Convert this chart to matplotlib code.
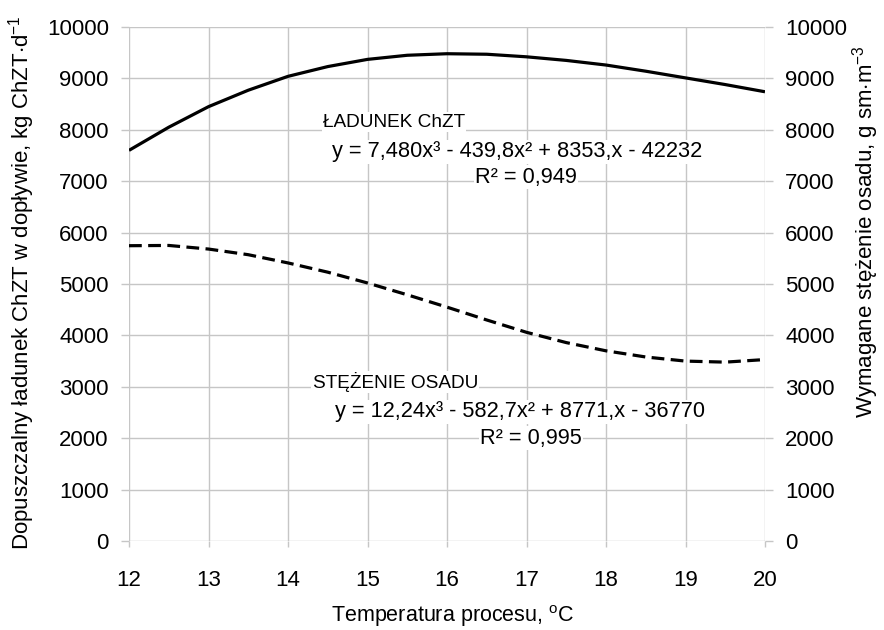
import numpy as np
import matplotlib
matplotlib.use("Agg")
import matplotlib.pyplot as plt

plt.rcParams['font.family'] = ['Liberation Sans', 'DejaVu Sans']
plt.rcParams['mathtext.fontset'] = 'custom'
plt.rcParams['mathtext.rm'] = 'Liberation Sans'
plt.rcParams['mathtext.it'] = 'Liberation Sans'

# temperatura procesu, oC
temp = [12, 12.5, 13, 13.5, 14, 14.5, 15, 15.5, 16, 16.5, 17, 17.5, 18, 18.5, 19, 19.5, 20]
# ladunek ChZT (linia ciagla)
ladunek = [7600, 8050, 8450, 8770, 9040, 9230, 9370, 9450, 9480, 9470, 9420, 9350, 9260, 9140, 9010, 8880, 8740]
# stezenie osadu (linia przerywana)
stezenie = [5745, 5750, 5680, 5570, 5410, 5230, 5020, 4790, 4550, 4300, 4060, 3860, 3700, 3580, 3500, 3480, 3530]

yticks = [0, 1000, 2000, 3000, 4000, 5000, 6000, 7000, 8000, 9000, 10000]
xticks = [12, 13, 14, 15, 16, 17, 18, 19, 20]

W, H = 884, 630
fig = plt.figure(figsize=(W / 100, H / 100), dpi=100)
ax = fig.add_axes([129 / W, 1 - 541 / H, 636 / W, 514 / H])
ax2 = ax.twinx()

grid_col = '#c6c6c6'
ax.plot(temp, ladunek, color='black', lw=2.3, solid_capstyle='butt', zorder=3)
ax2.plot(temp, stezenie, color='black', lw=2.3, dashes=(4, 2), zorder=3)

for a in (ax, ax2):
    a.set_xlim(12, 20)
    a.set_ylim(0, 10000)
    a.set_yticks(yticks)
    for s in a.spines.values():
        s.set_visible(False)
    a.tick_params(axis='y', length=5.5, width=1, color=grid_col,
                  labelsize=16, pad=9)
ax.set_xticks(xticks)
ax.tick_params(axis='x', length=4, width=1, color=grid_col, labelsize=16, pad=17)
ax.grid(True, color=grid_col, lw=1)
ax.set_axisbelow(True)

fig.text(453 / W, 1 - 616 / H, 'Temperatura procesu, $^{\\mathrm{o}}$C',
         fontsize=15.5, ha='center', va='center')
fig.text(22 / W, 1 - 283 / H, 'Dopuszczalny ładunek ChZT w dopływie, kg ChZT$\\cdot$d$^{-1}$',
         fontsize=16, rotation=90, ha='center', va='center')
fig.text(866 / W, 1 - 232 / H, 'Wymagane stężenie osadu, g sm$\\cdot$m$^{-3}$',
         fontsize=16, rotation=90, ha='center', va='center')

box = dict(facecolor='white', edgecolor='none', pad=1)
ax.text(14.44, 8150, 'ŁADUNEK ChZT', fontsize=13.7, ha='left', va='center', bbox=box, zorder=4)
ax.text(14.55, 7570, 'y = 7,480x³ - 439,8x² + 8353,x - 42232', fontsize=15.7, ha='left', va='center', bbox=box, zorder=4)
ax.text(16.35, 7080, 'R² = 0,949', fontsize=15.7, ha='left', va='center', bbox=box, zorder=4)
ax.text(14.31, 3093, 'STĘŻENIE OSADU', fontsize=13.7, ha='left', va='center', bbox=box, zorder=4)
ax.text(14.59, 2510, 'y = 12,24x³ - 582,7x² + 8771,x - 36770', fontsize=15.7, ha='left', va='center', bbox=box, zorder=4)
ax.text(16.42, 2000, 'R² = 0,995', fontsize=15.7, ha='left', va='center', bbox=box, zorder=4)

fig.savefig('out.png', dpi=100)
